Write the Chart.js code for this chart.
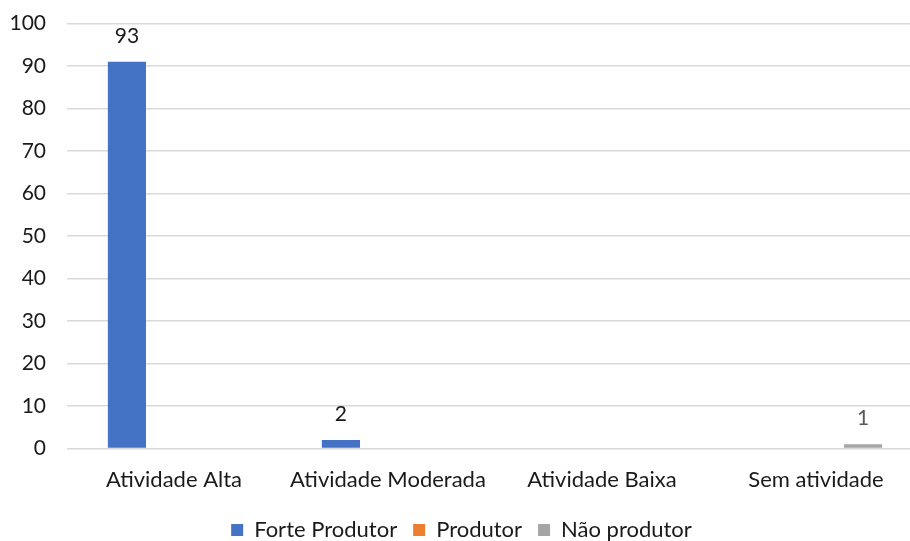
<!DOCTYPE html>
<html>
<head>
<meta charset="utf-8">
<script src="https://cdn.jsdelivr.net/npm/chart.js@4/dist/chart.umd.min.js"></script>
<style>
    html, body { margin: 0; padding: 0; background: #fff; overflow: hidden; }
    #wrap { position: relative; width: 960px; height: 561px; margin-top: -10px; }
</style>
</head>
<body>
<div id="wrap"><canvas id="chart"></canvas></div>
<script>
// dados do gráfico
const categorias = ['Atividade Alta', 'Atividade Moderada', 'Atividade Baixa', 'Sem atividade'];
const forteProdutor = [91, 2, null, null];
const produtor = [null, null, null, null];
const naoProdutor = [null, null, null, 1];
// rótulos escritos sobre as barras
const rotulosForte = ['93', '2', null, null];
const rotulosNao = [null, null, null, '1'];
const ticksY = [0, 10, 20, 30, 40, 50, 60, 70, 80, 90, 100];

const fonte = 'Lato, "Open Sans", sans-serif';
const tamanho = 21;
const tamanhoTexto = 22;

// plugin simples para escrever os rótulos acima das barras
const rotulosPlugin = {
    id: 'rotulos',
    afterDatasetsDraw(chart) {
        const ctx = chart.ctx;
        chart.data.datasets.forEach((ds, i) => {
            if (!ds.rotulos) return;
            const meta = chart.getDatasetMeta(i);
            meta.data.forEach((bar, j) => {
                const txt = ds.rotulos[j];
                if (txt == null) return;
                ctx.save();
                ctx.font = tamanho + 'px ' + fonte;
                ctx.fillStyle = ds.corRotulo;
                ctx.textAlign = 'center';
                ctx.textBaseline = 'middle';
                ctx.fillText(txt, bar.x, bar.y - 26);
                ctx.restore();
            });
        });
    }
};

const ctx = document.getElementById('chart').getContext('2d');
new Chart(ctx, {
    type: 'bar',
    data: {
        labels: categorias,
        datasets: [
            { label: 'Forte Produtor', data: forteProdutor, backgroundColor: '#4472C4', rotulos: rotulosForte, corRotulo: '#1a1a1a' },
            { label: 'Produtor', data: produtor, backgroundColor: '#ED7D31' },
            { label: 'Não produtor', data: naoProdutor, backgroundColor: '#A5A5A5', rotulos: rotulosNao, corRotulo: '#595959' }
        ]
    },
    options: {
        responsive: true,
        maintainAspectRatio: false,
        animation: false,
        layout: { padding: { left: 0, right: 37, top: 0, bottom: 0 } },
        datasets: {
            bar: { categoryPercentage: 0.66, barPercentage: 0.81 }
        },
        scales: {
            x: {
                grid: { display: false },
                border: { display: false },
                ticks: { color: '#1a1a1a', font: { family: fonte, size: tamanhoTexto }, padding: 10, maxRotation: 0 }
            },
            y: {
                min: 0,
                max: 100,
                afterBuildTicks: axis => { axis.ticks = ticksY.map(v => ({ value: v })); },
                afterFit: axis => { axis.width = 67; },
                grid: { color: '#d9d9d9', lineWidth: 1.5, drawTicks: false },
                border: { display: false },
                ticks: { color: '#1a1a1a', font: { family: fonte, size: tamanho }, padding: 21 }
            }
        },
        plugins: {
            legend: {
                position: 'bottom',
                labels: {
                    color: '#1a1a1a',
                    font: { family: fonte, size: tamanhoTexto },
                    boxWidth: 12,
                    boxHeight: 12,
                    padding: 16
                }
            },
            tooltip: { enabled: false }
        }
    },
    plugins: [rotulosPlugin]
});
</script>
</body>
</html>
